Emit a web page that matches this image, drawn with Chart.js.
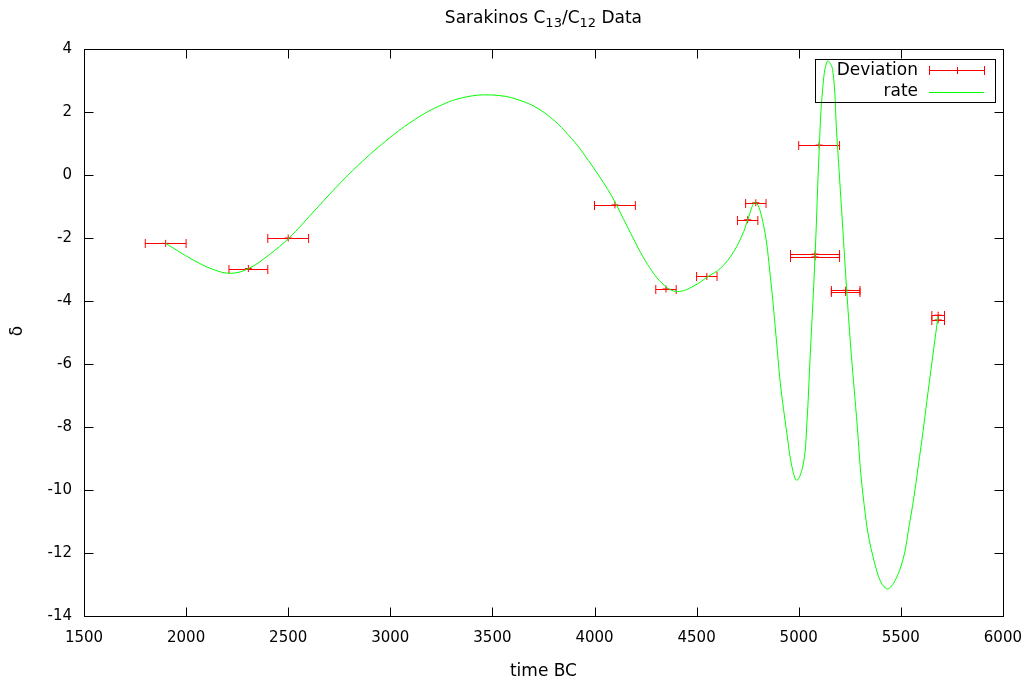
<!DOCTYPE html>
<html>
<head>
<meta charset="utf-8">
<title>Sarakinos C13/C12 Data</title>
<script src="https://cdn.jsdelivr.net/npm/chart.js@4.4.0/dist/chart.umd.min.js"></script>
<style>
  html, body { margin: 0; padding: 0; background: #fff; }
</style>
</head>
<body>
<canvas id="myChart" width="1035" height="682"></canvas>
<script>
// axis ranges / ticks
const xTicks = [1500, 2000, 2500, 3000, 3500, 4000, 4500, 5000, 5500, 6000];
const yTicks = [-14, -12, -10, -8, -6, -4, -2, 0, 2, 4];

// measured samples with their dating spread (years, +/-)
const devYears  = [1900, 2305, 2500, 4100, 4350, 4550, 4750, 4790, 5100, 5080, 5080, 5230, 5230, 5683, 5683];
const devValues = [-2.17, -2.97, -2.0, -0.95, -3.62, -3.22, -1.42, -0.88, 0.95, -2.51, -2.60, -3.66, -3.73, -4.45, -4.60];
const devSpread = [100, 95, 100, 100, 50, 50, 50, 50, 100, 120, 120, 70, 70, 31, 31];

// fitted rate curve
const rateYears  = [1900, 2033, 2130, 2220, 2309, 2407, 2504, 2618, 2732, 2846, 2976, 3106, 3236, 3366, 3496,
                    3626, 3756, 3886, 3983, 4065, 4105, 4178, 4260, 4341, 4406, 4487, 4552, 4617, 4682, 4731,
                    4750, 4788, 4828, 4861, 4893, 4910, 4942, 4967, 4991, 5023, 5040, 5056, 5080, 5101, 5117,
                    5140, 5166, 5186, 5210, 5235, 5254, 5283, 5316, 5364, 5429, 5494, 5543, 5592, 5641, 5682];
const rateValues = [-2.17, -2.69, -2.99, -3.12, -2.96, -2.53, -2.00, -1.21, -0.41, 0.33, 1.07, 1.70, 2.18, 2.47, 2.54,
                    2.39, 1.97, 1.17, 0.34, -0.46, -0.92, -1.86, -2.84, -3.50, -3.70, -3.52, -3.24, -2.96, -2.43, -1.79,
                    -1.42, -0.87, -1.60, -3.22, -5.40, -6.61, -8.20, -9.26, -9.69, -9.15, -7.88, -5.77, -2.59, 0.91, 2.71,
                    3.61, 3.35, 1.33, -1.10, -3.65, -5.40, -7.67, -10.22, -12.12, -13.13, -12.55, -11.06, -8.94, -6.51, -4.49];

const RED = '#ff0000';
const GREEN = '#00ff00';
const FONT = '"DejaVu Sans", sans-serif';

// horizontal error bars with end caps, drawn under the datasets
const errorBars = {
    id: 'errorBars',
    beforeDatasetsDraw(chart) {
        const { ctx, chartArea, scales: { x, y } } = chart;
        ctx.save();
        ctx.beginPath();
        ctx.rect(chartArea.left, chartArea.top, chartArea.width, chartArea.height);
        ctx.clip();
        ctx.strokeStyle = RED;
        ctx.lineWidth = 1;
        for (let i = 0; i < devYears.length; i++) {
            const x0 = x.getPixelForValue(devYears[i] - devSpread[i]);
            const x1 = x.getPixelForValue(devYears[i] + devSpread[i]);
            const py = Math.round(y.getPixelForValue(devValues[i])) + 0.5;
            ctx.beginPath();
            ctx.moveTo(x0, py);
            ctx.lineTo(x1, py);
            ctx.moveTo(x0, py - 4.5);
            ctx.lineTo(x0, py + 4.5);
            ctx.moveTo(x1, py - 4.5);
            ctx.lineTo(x1, py + 4.5);
            ctx.stroke();
        }
        ctx.restore();
    }
};

// gnuplot-like frame: border, inward mirrored ticks, titles and key box
const frame = {
    id: 'frame',
    afterDraw(chart) {
        const { ctx, chartArea: a, scales: { x, y } } = chart;
        const L = Math.round(a.left) + 0.5, R = Math.round(a.right) + 0.5;
        const T = Math.round(a.top) + 0.5, B = Math.round(a.bottom) + 0.5;
        const tl = 9;
        ctx.save();
        ctx.strokeStyle = '#000';
        ctx.lineWidth = 1;
        ctx.beginPath();
        xTicks.forEach(v => {
            const px = Math.round(x.getPixelForValue(v)) + 0.5;
            ctx.moveTo(px, B); ctx.lineTo(px, B - tl);
            ctx.moveTo(px, T); ctx.lineTo(px, T + tl);
        });
        yTicks.forEach(v => {
            const py = Math.round(y.getPixelForValue(v)) + 0.5;
            ctx.moveTo(L, py); ctx.lineTo(L + tl, py);
            ctx.moveTo(R, py); ctx.lineTo(R - tl, py);
        });
        ctx.stroke();
        ctx.strokeRect(L, T, R - L, B - T);

        // title with subscripts
        const parts = [['Sarakinos C', 0], ['13', 1], ['/C', 0], ['12', 1], [' Data', 0]];
        const big = '17px ' + FONT, small = '13px ' + FONT;
        let w = 0;
        parts.forEach(p => { ctx.font = p[1] ? small : big; w += ctx.measureText(p[0]).width; });
        let tx = (a.left + a.right) / 2 - w / 2;
        ctx.fillStyle = '#000';
        ctx.textBaseline = 'alphabetic';
        ctx.textAlign = 'left';
        parts.forEach(p => {
            ctx.font = p[1] ? small : big;
            ctx.fillText(p[0], tx, p[1] ? 27 : 23);
            tx += ctx.measureText(p[0]).width;
        });

        // axis titles
        ctx.font = '17px ' + FONT;
        ctx.textAlign = 'center';
        ctx.textBaseline = 'middle';
        ctx.fillText('time BC', (a.left + a.right) / 2, 672);
        ctx.save();
        ctx.translate(18, 331);
        ctx.rotate(-Math.PI / 2);
        ctx.fillText('δ', 0, 0);
        ctx.restore();

        // key (outline only, the curve shows through)
        ctx.strokeStyle = '#000';
        ctx.strokeRect(815.5, 59.5, 180, 43);
        ctx.fillStyle = '#000';
        ctx.font = '17px ' + FONT;
        ctx.textAlign = 'right';
        ctx.fillText('Deviation', 918, 71);
        ctx.fillText('rate', 918, 92);
        ctx.strokeStyle = RED;
        ctx.beginPath();
        ctx.moveTo(929, 70.5); ctx.lineTo(984, 70.5);
        ctx.moveTo(929.5, 66); ctx.lineTo(929.5, 75);
        ctx.moveTo(984.5, 66); ctx.lineTo(984.5, 75);
        ctx.moveTo(957.5, 67); ctx.lineTo(957.5, 74);
        ctx.stroke();
        ctx.strokeStyle = GREEN;
        ctx.beginPath();
        ctx.moveTo(929, 92.5); ctx.lineTo(984, 92.5);
        ctx.stroke();
        ctx.restore();
    }
};

new Chart(document.getElementById('myChart'), {
    type: 'scatter',
    data: {
        datasets: [
            {
                label: 'rate',
                data: rateYears.map((t, i) => ({ x: t, y: rateValues[i] })),
                showLine: true,
                borderColor: GREEN,
                backgroundColor: GREEN,
                borderWidth: 1,
                pointRadius: 0,
                tension: 0.4,
                order: 0
            },
            {
                label: 'Deviation',
                data: devYears.map((t, i) => ({ x: t, y: devValues[i] })),
                showLine: false,
                pointStyle: 'cross',
                pointRadius: 3.5,
                borderColor: RED,
                backgroundColor: RED,
                borderWidth: 1,
                order: 1
            }
        ]
    },
    options: {
        responsive: false,
        animation: false,
        devicePixelRatio: 1,
        layout: { padding: { top: 49, right: 28, left: 0, bottom: 0 } },
        plugins: {
            legend: { display: false },
            title: { display: false },
            tooltip: { enabled: false }
        },
        scales: {
            x: {
                type: 'linear',
                min: 1500,
                max: 6000,
                afterFit: s => { s.height = 66; },
                afterBuildTicks: s => { s.ticks = xTicks.map(v => ({ value: v })); },
                grid: { display: false, drawTicks: false },
                border: { display: false },
                ticks: { color: '#000', font: { family: FONT, size: 15 }, padding: 13, maxRotation: 0,
                         callback: v => String(v) }
            },
            y: {
                type: 'linear',
                min: -14,
                max: 4,
                afterFit: s => { s.width = 84; },
                afterBuildTicks: s => { s.ticks = yTicks.map(v => ({ value: v })); },
                grid: { display: false, drawTicks: false },
                border: { display: false },
                ticks: { color: '#000', font: { family: FONT, size: 15 }, padding: 12,
                         callback: v => String(v) }
            }
        }
    },
    plugins: [errorBars, frame]
});
</script>
</body>
</html>
